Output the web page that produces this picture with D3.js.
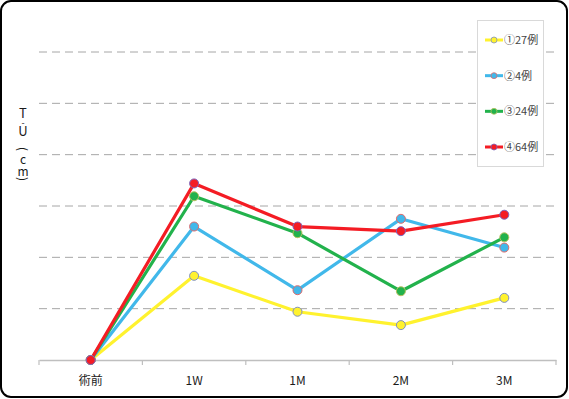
<!DOCTYPE html>
<html>
<head>
<meta charset="utf-8">
<style>
  body { margin: 0; background: #fff; }
  svg text { font-family: "Noto Sans CJK JP", "Noto Sans", sans-serif; }
</style>
</head>
<body>
<svg id="chart" width="569" height="399"></svg>
<script src="https://cdn.jsdelivr.net/npm/d3@7"></script>
<script>
var categories = ["術前", "1W", "1M", "2M", "3M"];
var seriesNames = ["①27例", "②4例", "③24例", "④64例"];
var yellowVals = [0, 1.64, 0.94, 0.68, 1.21];
var blueVals   = [0, 2.60, 1.36, 2.75, 2.19];
var greenVals  = [0, 3.19, 2.47, 1.34, 2.39];
var redVals    = [0, 3.44, 2.60, 2.51, 2.83];
var gridTicks  = [1, 2, 3, 4, 5, 6];

var series = [
  { name: seriesNames[0], values: yellowVals, color: "#fff22e", edge: "#8090c0" },
  { name: seriesNames[1], values: blueVals,   color: "#41b8ea", edge: "#e06a6a" },
  { name: seriesNames[2], values: greenVals,  color: "#22b24c", edge: "#b8c060" },
  { name: seriesNames[3], values: redVals,    color: "#f41c24", edge: "#7a66c0" }
];

var svg = d3.select("#chart");

// outer frame
svg.append("rect")
  .attr("x", 1).attr("y", 1)
  .attr("width", 566).attr("height", 396)
  .attr("rx", 10).attr("ry", 10)
  .attr("fill", "#fff")
  .attr("stroke", "#000")
  .attr("stroke-width", 2);

var x = d3.scaleBand().domain(categories).range([39, 556]);
var y = d3.scaleLinear().domain([0, 6]).range([360, 52]);

// dashed grid
svg.selectAll(".grid")
  .data(gridTicks)
  .enter()
  .append("line")
  .attr("class", "grid")
  .attr("x1", 39).attr("x2", 555)
  .attr("y1", function(d) { return y(d); })
  .attr("y2", function(d) { return y(d); })
  .attr("stroke", "#a6a6a6")
  .attr("stroke-width", 1)
  .attr("stroke-dasharray", "8,5");

// x axis
var xAxis = svg.append("g")
  .attr("transform", "translate(0,360)")
  .call(d3.axisBottom(x).tickSize(0).tickPadding(16));
xAxis.select(".domain").attr("stroke", "#bfbfbf").attr("stroke-width", 1.5);
xAxis.selectAll("text").attr("font-size", 12).attr("fill", "#1a1a1a");

var tickPos = categories.map(function(c) { return x(c); }).concat([x.range()[1]]);
svg.selectAll(".xtick")
  .data(tickPos)
  .enter()
  .append("line")
  .attr("x1", function(d) { return d; })
  .attr("x2", function(d) { return d; })
  .attr("y1", 360).attr("y2", 365)
  .attr("stroke", "#bfbfbf")
  .attr("stroke-width", 1.2);

// y label, stacked characters (parentheses turned sideways)
var yLabel = [
  { c: "T", y: 112, rot: 0, size: 13 },
  { c: "-", y: 122, rot: 0, size: 9 },
  { c: "U", y: 130, rot: 0, size: 13 },
  { c: "(", y: 149, rot: 90, size: 12 },
  { c: "c", y: 158, rot: 0, size: 12 },
  { c: "m", y: 170, rot: 0, size: 12 },
  { c: ")", y: 179, rot: 90, size: 12 }
];
svg.selectAll(".ylab")
  .data(yLabel)
  .enter()
  .append("text")
  .attr("x", 23)
  .attr("y", function(d) { return d.y; })
  .attr("text-anchor", "middle")
  .attr("dominant-baseline", "central")
  .attr("transform", function(d) { return "rotate(" + d.rot + ",23," + d.y + ")"; })
  .attr("font-size", function(d) { return d.size; })
  .attr("fill", "#1a1a1a")
  .text(function(d) { return d.c; });

// lines
var line = d3.line()
  .x(function(d, i) { return x(categories[i]) + x.bandwidth() / 2; })
  .y(function(d) { return y(d); });

series.forEach(function(s) {
  svg.append("path")
    .datum(s.values)
    .attr("d", line)
    .attr("fill", "none")
    .attr("stroke", s.color)
    .attr("stroke-width", 3.2)
    .attr("stroke-linejoin", "round");
});

series.forEach(function(s) {
  svg.selectAll(null)
    .data(s.values)
    .enter()
    .append("circle")
    .attr("cx", function(d, i) { return x(categories[i]) + x.bandwidth() / 2; })
    .attr("cy", function(d) { return y(d); })
    .attr("r", 4.5)
    .attr("fill", s.color)
    .attr("stroke", s.edge)
    .attr("stroke-width", 1);
});

// legend
var legend = svg.append("g");
legend.append("rect")
  .attr("x", 477.5).attr("y", 20.5)
  .attr("width", 66).attr("height", 146)
  .attr("fill", "#fff")
  .attr("stroke", "#d9d9d9");

var legendY = d3.scalePoint().domain(seriesNames).range([40, 147]);
var item = legend.selectAll(".item")
  .data(series)
  .enter()
  .append("g")
  .attr("transform", function(d) { return "translate(0," + legendY(d.name) + ")"; });
item.append("line")
  .attr("x1", 485).attr("x2", 503)
  .attr("stroke", function(d) { return d.color; })
  .attr("stroke-width", 3);
item.append("circle")
  .attr("cx", 494).attr("r", 3)
  .attr("fill", function(d) { return d.color; })
  .attr("stroke", function(d) { return d.edge; })
  .attr("stroke-width", 0.8);
item.append("text")
  .attr("x", 504).attr("y", 4)
  .attr("font-size", 11)
  .attr("fill", "#444")
  .text(function(d) { return d.name; });
</script>
</body>
</html>
